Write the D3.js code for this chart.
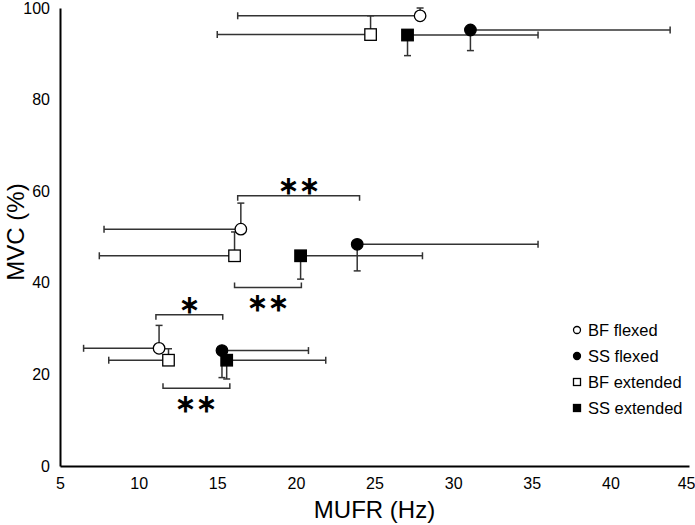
<!DOCTYPE html>
<html>
<head>
<meta charset="utf-8">
<script src="https://cdn.jsdelivr.net/npm/d3@7"></script>
<style>
  body { margin: 0; background: #fff; }
  text { font-family: "Liberation Sans", Arial, sans-serif; }
</style>
</head>
<body>
<div id="chart"></div>
<script>
const width = 695;
const height = 525;
const margin = { top: 8, right: 6, bottom: 59, left: 60 };

// data (3 contraction levels per group)
const seriesNames = ["BF flexed", "SS flexed", "BF extended", "SS extended"];
const bfFlexedMufr = [27.9, 16.5, 11.3];
const bfFlexedMvc = [98.3, 51.7, 25.7];
const bfFlexedMufrSd = [11.6, 8.7, 4.8];
const bfFlexedMvcSd = [1.7, 5.7, 5.0];

const ssFlexedMufr = [31.1, 23.9, 15.3];
const ssFlexedMvc = [95.2, 48.4, 25.2];
const ssFlexedMufrSd = [12.7, 11.5, 5.5];
const ssFlexedMvcSd = [4.5, 5.8, 5.9];

const bfExtMufr = [24.75, 16.1, 11.9];
const bfExtMvc = [94.2, 45.9, 23.1];
const bfExtMufrSd = [9.75, 8.6, 3.8];
const bfExtMvcSd = [4.1, 5.2, 2.5];

const ssExtMufr = [27.1, 20.3, 15.6];
const ssExtMvc = [94.1, 45.9, 23.1];
const ssExtMufrSd = [8.3, 7.75, 6.3];
const ssExtMvcSd = [4.5, 5.1, 4.1];

const xTicks = [5, 10, 15, 20, 25, 30, 35, 40, 45];
const yTicks = [0, 20, 40, 60, 80, 100];

// significance brackets: x from, x to, y, label
const bracketX1 = [16.3, 16.1, 11.1, 11.55];
const bracketX2 = [24.05, 20.35, 15.35, 15.8];
const bracketY = [59.0, 39.0, 33.0, 17.0];
const bracketLabels = ["**", "**", "*", "**"];

const series = [
  { name: seriesNames[0], x: bfFlexedMufr, y: bfFlexedMvc, sx: bfFlexedMufrSd, sy: bfFlexedMvcSd, shape: "circle", fill: "#fff", dx: -1, dy: 1 },
  { name: seriesNames[1], x: ssFlexedMufr, y: ssFlexedMvc, sx: ssFlexedMufrSd, sy: ssFlexedMvcSd, shape: "circle", fill: "#000", dx: 1, dy: -1 },
  { name: seriesNames[2], x: bfExtMufr, y: bfExtMvc, sx: bfExtMufrSd, sy: bfExtMvcSd, shape: "square", fill: "#fff", dx: -1, dy: 1 },
  { name: seriesNames[3], x: ssExtMufr, y: ssExtMvc, sx: ssExtMufrSd, sy: ssExtMvcSd, shape: "square", fill: "#000", dx: 1, dy: -1 }
];

const svg = d3.select("#chart")
  .append("svg")
  .attr("width", width)
  .attr("height", height);

const x = d3.scaleLinear().domain([5, 45]).range([margin.left, width - margin.right]);
const y = d3.scaleLinear().domain([0, 100]).range([height - margin.bottom, margin.top]);

// axes (no tick marks, just labels)
const xAxis = svg.append("g")
  .attr("transform", `translate(0,${y(0)})`)
  .call(d3.axisBottom(x).tickValues(xTicks).tickSize(0).tickPadding(12));
const yAxis = svg.append("g")
  .attr("transform", `translate(${x(5)},0)`)
  .call(d3.axisLeft(y).tickValues(yTicks).tickSize(0).tickPadding(10));

[xAxis, yAxis].forEach(a => {
  a.select(".domain").attr("stroke", "#000").attr("stroke-width", 2);
  a.selectAll("text").attr("font-size", 16).attr("fill", "#000")
    .attr("font-family", "Liberation Sans, Arial, sans-serif");
});
// last x label sits against the right edge
xAxis.selectAll(".tick text").filter(d => d === 45).attr("text-anchor", "end").attr("dx", 6);

svg.append("text")
  .attr("x", (x(5) + x(45)) / 2)
  .attr("y", 518)
  .attr("text-anchor", "middle")
  .attr("font-size", 24)
  .text("MUFR (Hz)");

svg.append("text")
  .attr("transform", "translate(24,232) rotate(-90)")
  .attr("text-anchor", "middle")
  .attr("font-size", 24)
  .text("MVC (%)");

// error bars (one-sided)
const cap = 3.5;
const errG = svg.append("g").attr("stroke", "#333").attr("stroke-width", 1.5);
series.forEach(s => {
  s.x.forEach((xv, i) => {
    const px = x(xv), py = y(s.y[i]);
    const ex = x(xv + s.dx * s.sx[i]);
    const ey = y(s.y[i] + s.dy * s.sy[i]);
    errG.append("line").attr("x1", px).attr("x2", ex).attr("y1", py).attr("y2", py);
    errG.append("line").attr("x1", ex).attr("x2", ex).attr("y1", py - cap).attr("y2", py + cap);
    errG.append("line").attr("x1", px).attr("x2", px).attr("y1", py).attr("y2", ey);
    errG.append("line").attr("x1", px - cap).attr("x2", px + cap).attr("y1", ey).attr("y2", ey);
  });
});

// markers
function drawMarker(g, shape, fill, cx, cy, size) {
  if (shape === "circle") {
    g.append("circle").attr("cx", cx).attr("cy", cy).attr("r", size / 2)
      .attr("fill", fill).attr("stroke", "#000").attr("stroke-width", 1.3);
  } else {
    g.append("rect").attr("x", cx - size / 2).attr("y", cy - size / 2)
      .attr("width", size).attr("height", size)
      .attr("fill", fill).attr("stroke", "#000").attr("stroke-width", 1.3);
  }
}
const markG = svg.append("g");
series.forEach(s => {
  s.x.forEach((xv, i) => drawMarker(markG, s.shape, s.fill, x(xv), y(s.y[i]), 11.5));
});

// significance brackets
const brG = svg.append("g");
bracketLabels.forEach((lab, i) => {
  const x1 = x(bracketX1[i]), x2 = x(bracketX2[i]), by = y(bracketY[i]);
  const up = i % 2 === 0; // label above, ticks down
  const t = up ? 5 : -5;
  brG.append("path")
    .attr("d", `M${x1},${by + t}V${by}H${x2}V${by + t}`)
    .attr("fill", "none").attr("stroke", "#333").attr("stroke-width", 1.5);
  brG.append("text")
    .attr("x", (x1 + x2) / 2)
    .attr("y", up ? by - 2 : by + 24)
    .attr("text-anchor", "middle")
    .attr("font-size", 25)
    .attr("font-weight", "bold")
    .attr("font-family", "DejaVu Sans, sans-serif")
    .text(lab === "**" ? "\u2217\u2217" : "\u2217");
});

// legend
const legend = svg.append("g").attr("transform", "translate(577,330)");
series.forEach((s, i) => {
  const g = legend.append("g").attr("transform", `translate(0,${i * 26})`);
  drawMarker(g, s.shape, s.fill, 0, 0, 7);
  g.append("text").attr("x", 11).attr("y", 6).attr("font-size", 16.5).text(s.name);
});
</script>
</body>
</html>
